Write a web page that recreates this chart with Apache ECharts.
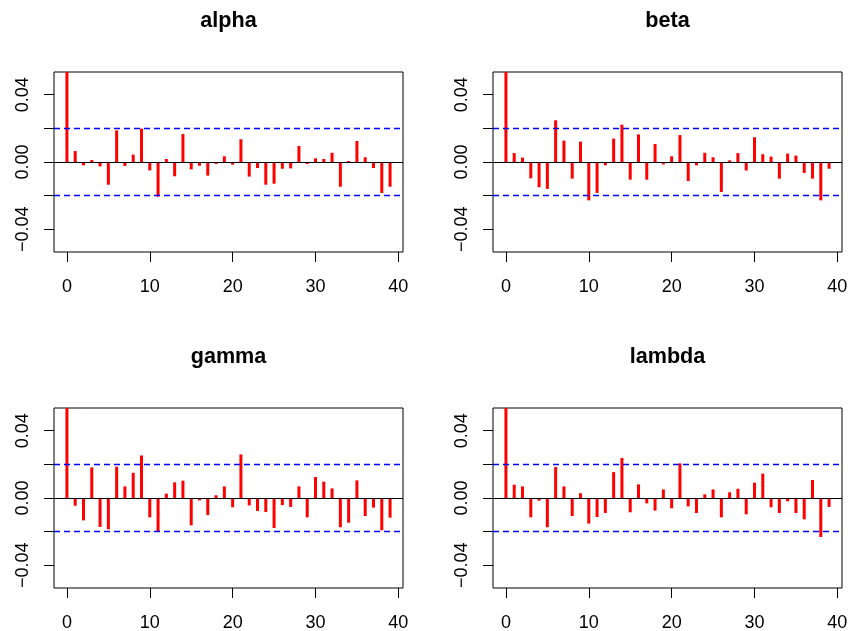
<!DOCTYPE html>
<html>
<head>
<meta charset="utf-8">
<script src="https://cdn.jsdelivr.net/npm/echarts@6/dist/echarts.min.js"></script>
<style>
  html, body { margin: 0; padding: 0; background: #fff; }
  #main { width: 848px; height: 631px; }
</style>
</head>
<body>
<div id="main"></div>
<script>
// acf of each parameter, lags 0..39
var names = ['alpha', 'beta', 'gamma', 'lambda'];
var lags = [];
for (var i = 0; i < 40; i++) lags.push(i);

var alpha = [1, 0.0065, -0.002, 0.0012, -0.0026, -0.0135, 0.0188, -0.0024, 0.0044, 0.0198,
  -0.005, -0.0206, 0.0018, -0.0085, 0.0166, -0.0044, -0.0022, -0.0081, -0.0012, 0.0034,
  -0.0016, 0.0135, -0.0087, -0.0036, -0.0135, -0.0129, -0.004, -0.0038, 0.0095, -0.0012,
  0.0022, 0.0018, 0.0055, -0.0147, 0.0006, 0.0125, 0.0028, -0.0036, -0.0184, -0.0147];
var beta = [1, 0.0053, 0.0026, -0.0097, -0.015, -0.016, 0.0248, 0.0127, -0.0099, 0.0121,
  -0.0228, -0.0184, -0.002, 0.0139, 0.0222, -0.0105, 0.0164, -0.0105, 0.0107, -0.0014,
  0.0034, 0.016, -0.0113, -0.002, 0.0055, 0.0028, -0.0178, 0.001, 0.0053, -0.0051,
  0.0147, 0.0046, 0.0032, -0.0099, 0.005, 0.0038, -0.0065, -0.0099, -0.0228, -0.004];
var gamma = [1, -0.0046, -0.0133, 0.0182, -0.0172, -0.0186, 0.0186, 0.0069, 0.015, 0.0253,
  -0.0115, -0.0202, 0.0026, 0.0093, 0.0103, -0.0162, -0.0014, -0.0101, 0.0016, 0.0069,
  -0.0055, 0.0259, -0.0044, -0.0077, -0.0083, -0.0178, -0.0042, -0.0053, 0.0069, -0.0115,
  0.0125, 0.0097, 0.0057, -0.0174, -0.0147, 0.0105, -0.0107, -0.0057, -0.0192, -0.0117];
var lambda = [1, 0.0079, 0.0069, -0.0115, -0.0016, -0.0174, 0.0184, 0.0069, -0.0107, 0.0028,
  -0.0152, -0.0113, -0.0089, 0.0154, 0.0238, -0.0085, 0.0081, -0.0032, -0.0075, 0.0051,
  -0.0061, 0.0206, -0.005, -0.0089, 0.0022, 0.0051, -0.0115, 0.0034, 0.0055, -0.0097,
  0.0091, 0.0145, -0.0055, -0.0089, -0.002, -0.0089, -0.0127, 0.0107, -0.0232, -0.0053];

var ci = 0.0205; // confidence bound
var xTicks = [0, 10, 20, 30, 40];
var yTicks = [-0.04, -0.02, 0, 0.02, 0.04];
var yLabels = [-0.04, 0, 0.04];

var values = [alpha, beta, gamma, lambda];
var font = 'Liberation Sans, Arial, Helvetica, sans-serif';

// panel boxes: [left, top]
var boxes = [[54, 72], [493, 72], [54, 408], [493, 408]];
var boxW = 349, boxH = 180;

var titles = [], grids = [], xAxes = [], yAxes = [], series = [];

for (var p = 0; p < 4; p++) {
  var b = boxes[p];
  titles.push({
    text: names[p],
    left: b[0] + boxW / 2,
    top: b[1] - 62,
    textAlign: 'center',
    padding: 0,
    textStyle: { fontSize: 21.6, fontWeight: 'bold', color: '#000', fontFamily: font }
  });
  grids.push({
    left: b[0], top: b[1], width: boxW, height: boxH,
    show: true, borderColor: '#000', borderWidth: 1,
    backgroundColor: 'transparent', containLabel: false, outerBoundsMode: 'none'
  });
  xAxes.push({
    type: 'value', gridIndex: p, position: 'bottom', min: -1.56, max: 40.56,
    axisLine: { show: false, onZero: false },
    splitLine: { show: false },
    axisTick: { show: true, customValues: xTicks, length: 10, lineStyle: { color: '#000', width: 1 } },
    axisLabel: { customValues: xTicks, margin: 26, color: '#000', fontSize: 18, fontFamily: font }
  });
  yAxes.push({
    type: 'value', gridIndex: p, position: 'left', min: -0.0535, max: 0.0535,
    axisLine: { show: false, onZero: false },
    splitLine: { show: false },
    axisTick: { show: true, customValues: yTicks, length: 10, lineStyle: { color: '#000', width: 1 } },
    axisLabel: {
      customValues: yLabels, rotate: 90, margin: 22, color: '#000', fontSize: 18, fontFamily: font,
      formatter: function (v) { return v.toFixed(2).replace('-', '\u2212'); }
    }
  });
  var pts = [];
  for (var k = 0; k < lags.length; k++) pts.push([lags[k], values[p][k]]);
  series.push({
    type: 'bar', xAxisIndex: p, yAxisIndex: p,
    data: pts, barWidth: 3, clip: true,
    itemStyle: { color: '#ff0000' },
    silent: true, animation: false,
    markLine: {
      silent: true, symbol: 'none', label: { show: false }, animation: false,
      data: [
        { yAxis: 0, lineStyle: { color: '#000', width: 1, type: 'solid' } },
        { yAxis: ci, lineStyle: { color: '#0000ff', width: 1.3, type: [6, 4] } },
        { yAxis: -ci, lineStyle: { color: '#0000ff', width: 1.3, type: [6, 4] } }
      ]
    }
  });
}

var chart = echarts.init(document.getElementById('main'), null, { renderer: 'canvas' });
chart.setOption({
  backgroundColor: '#ffffff',
  animation: false,
  title: titles,
  grid: grids,
  xAxis: xAxes,
  yAxis: yAxes,
  series: series
});
</script>
</body>
</html>
